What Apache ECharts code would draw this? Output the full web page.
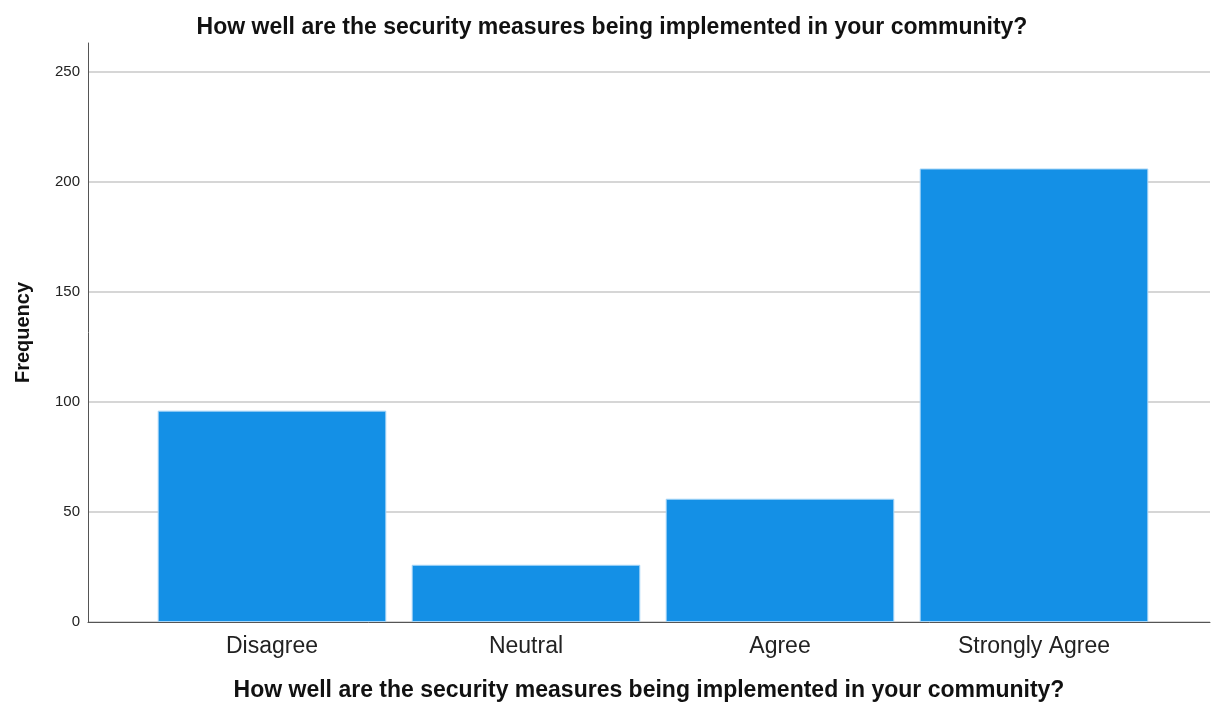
<!DOCTYPE html>
<html>
<head>
<meta charset="utf-8">
<script src="https://cdn.jsdelivr.net/npm/echarts@6/dist/echarts.min.js"></script>
<style>
  html, body { margin: 0; padding: 0; background: #fff; }
  #chart { width: 1211px; height: 705px; }
</style>
</head>
<body>
<div id="chart"></div>
<script>
const chartTitle = "How well are the security measures being implemented in your community?";
const categories = ["Disagree", "Neutral", "Agree", "Strongly Agree"];
const frequency = [96, 26, 56, 206];
const yMax = 263;
const yStep = 50;

const font = "Liberation Sans, Arial, sans-serif";

const option = {
  backgroundColor: "#fff",
  animation: false,
  title: {
    text: chartTitle,
    left: 607,
    top: 11,
    textAlign: "center",
    textStyle: { fontFamily: font, fontSize: 23, fontWeight: "bold", color: "#111" }
  },
  grid: [
    // frame grid: axis lines, y labels, gridlines
    { left: 88, right: 1, top: 43, bottom: 83, outerBoundsMode: "none" },
    // bar grid, inset like SPSS
    { left: 145, right: 50, top: 43, bottom: 83, outerBoundsMode: "none" }
  ],
  xAxis: [
    {
      gridIndex: 0,
      type: "category",
      data: categories,
      axisLine: { lineStyle: { color: "#555", width: 1 } },
      axisTick: { show: false },
      axisLabel: { show: false },
      name: chartTitle,
      nameLocation: "middle",
      nameGap: 57,
      nameTextStyle: { fontFamily: font, fontSize: 23, fontWeight: "bold", color: "#111", verticalAlign: "top" }
    },
    {
      gridIndex: 1,
      type: "category",
      data: categories,
      axisLine: { show: false },
      axisTick: { show: false },
      axisLabel: { fontFamily: font, fontSize: 23, color: "#222", margin: 13 }
    }
  ],
  yAxis: [
    {
      gridIndex: 0,
      type: "value",
      min: 0,
      max: yMax,
      interval: yStep,
      axisLine: { show: true, lineStyle: { color: "#555", width: 1 } },
      axisTick: { show: false },
      axisLabel: {
        fontFamily: font, fontSize: 15, color: "#222", margin: 8,
        showMaxLabel: false,
        formatter: (v) => (v % yStep === 0 ? String(v) : "")
      },
      splitLine: { show: true, showMaxLine: false, lineStyle: { color: "#c8c8c8", width: 1.5 } },
      name: "Frequency",
      nameLocation: "middle",
      nameGap: 55,
      nameTextStyle: { fontFamily: font, fontSize: 20, fontWeight: "bold", color: "#111" }
    },
    {
      gridIndex: 1,
      type: "value",
      min: 0,
      max: yMax,
      show: false
    }
  ],
  series: [
    {
      type: "bar",
      xAxisIndex: 1,
      yAxisIndex: 1,
      data: frequency,
      barWidth: "90%",
      itemStyle: { color: "#1490e6", borderColor: "#a8d6f7", borderWidth: 1 }
    }
  ]
};

const myChart = echarts.init(document.getElementById("chart"), null, { renderer: "canvas" });
myChart.setOption(option, true);
window.onresize = function () {
  myChart.resize();
};
</script>
</body>
</html>
